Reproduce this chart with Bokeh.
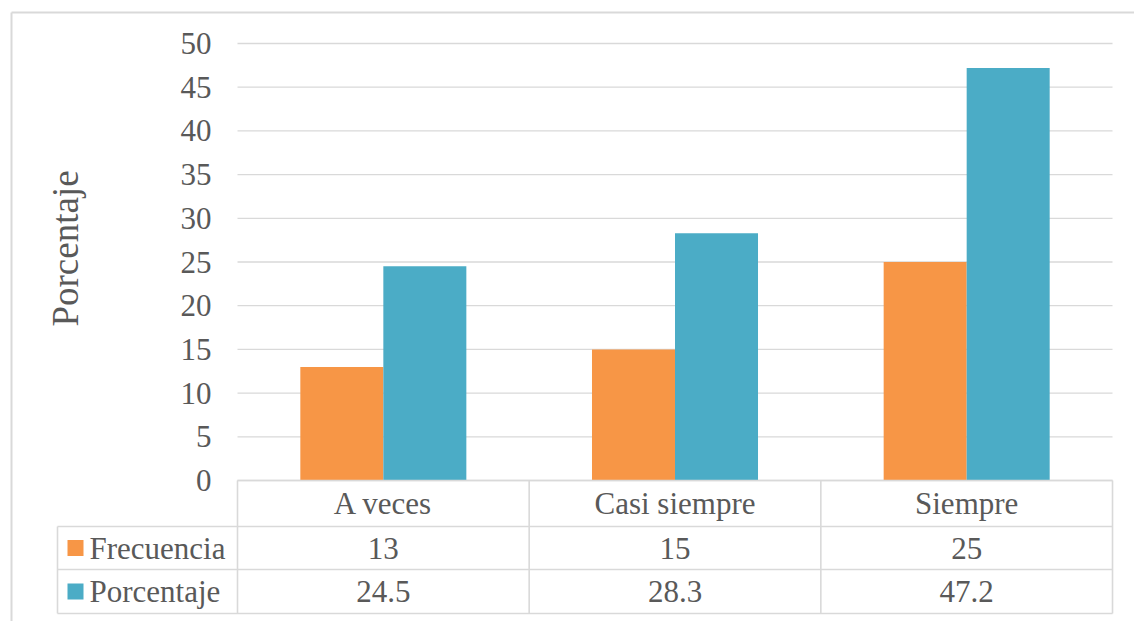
from math import pi
from bokeh.plotting import figure
from bokeh.models import Range1d
from bokeh.core.properties import value
from bokeh.embed import file_html
from bokeh.resources import INLINE

# ---- data ----
categories = ["A veces", "Casi siempre", "Siempre"]
frecuencia = [13, 15, 25]
porcentaje = [24.5, 28.3, 47.2]
series_names = ["Frecuencia", "Porcentaje"]
y_ticks = [0, 5, 10, 15, 20, 25, 30, 35, 40, 45, 50]
y_title = "Porcentaje"

# ---- styles ----
ORANGE = "#F79646"
BLUE = "#4BACC6"
TEXT = "#595959"
GRID = "#D9D9D9"
FONT = value("Liberation Serif")
FS = value("31px")

W, H = 1134, 621
PX_PER_X = 291.67     # px per category
PX_PER_Y = 8.74       # px per unit
X0_PX = 237           # canvas px of x=0
Y0_PX = 480           # canvas px of y=0

def xd(px):
    return (px - X0_PX) / PX_PER_X

def yd(px):
    return (Y0_PX - px) / PX_PER_Y

p = figure(width=W, height=H, output_backend="svg", toolbar_location=None,
           x_range=Range1d(xd(0), xd(W)), y_range=Range1d(yd(H), yd(0)),
           min_border=0, background_fill_color="white", border_fill_color="white")
p.axis.visible = False
p.grid.visible = False
p.outline_line_color = None

n = len(categories)

# outer chart border
p.segment(x0=[xd(11), xd(11)], y0=[yd(12), yd(12)], x1=[xd(11), xd(W + 5)], y1=[yd(H + 5), yd(12)],
          line_color=GRID, line_width=2)

# gridlines
p.segment(x0=[0] * len(y_ticks), x1=[n] * len(y_ticks), y0=y_ticks, y1=y_ticks,
          line_color=GRID, line_width=1.3)

# bars
bw = 0.2846
centers = [i + 0.5 for i in range(n)]
p.vbar(x=[c - bw / 2 for c in centers], top=frecuencia, bottom=0, width=bw,
       fill_color=ORANGE, line_color=None)
p.vbar(x=[c + bw / 2 for c in centers], top=porcentaje, bottom=0, width=bw,
       fill_color=BLUE, line_color=None)

# tick labels
p.text(x=[xd(211)] * len(y_ticks), y=y_ticks, text=[str(t) for t in y_ticks],
       text_font=FONT, text_font_size=FS, text_color=TEXT,
       text_align="right", text_baseline="middle")

# axis title
p.text(x=[xd(65)], y=[yd(248)], text=[y_title], angle=pi / 2,
       text_font=FONT, text_font_size=value("37px"), text_color=TEXT,
       text_align="center", text_baseline="middle")

# ---- data table ----
r1 = yd(526)
r2 = yd(569)
r3 = yd(613)
leg_left = xd(57)

hx0 = [0, leg_left, leg_left, leg_left]
hx1 = [n, n, n, n]
hy = [0, r1, r2, r3]
p.segment(x0=hx0, x1=hx1, y0=hy, y1=hy, line_color=GRID, line_width=1.6)
vx = list(range(n + 1)) + [leg_left]
vtop = [0] * (n + 1) + [r1]
p.segment(x0=vx, x1=vx, y0=vtop, y1=[r3] * (n + 2), line_color=GRID, line_width=1.6)

# header row
p.text(x=centers, y=[r1 / 2] * n, text=categories, text_font=FONT, text_font_size=FS,
       text_color=TEXT, text_align="center", text_baseline="middle")
# values + legend keys
mid1 = (r1 + r2) / 2
mid2 = (r2 + r3) / 2
for vals, col, mid, name in [(frecuencia, ORANGE, mid1, series_names[0]),
                             (porcentaje, BLUE, mid2, series_names[1])]:
    p.text(x=centers, y=[mid] * n, text=[str(v) for v in vals], text_font=FONT,
           text_font_size=FS, text_color=TEXT, text_align="center", text_baseline="middle")
    p.rect(x=[xd(75)], y=[mid], width=16, height=16, width_units="screen",
           height_units="screen", fill_color=col, line_color=None)
    p.text(x=[xd(89)], y=[mid], text=[name], text_font=FONT, text_font_size=FS,
           text_color=TEXT, text_align="left", text_baseline="middle")

open("out.html", "w").write(file_html(p, INLINE))
